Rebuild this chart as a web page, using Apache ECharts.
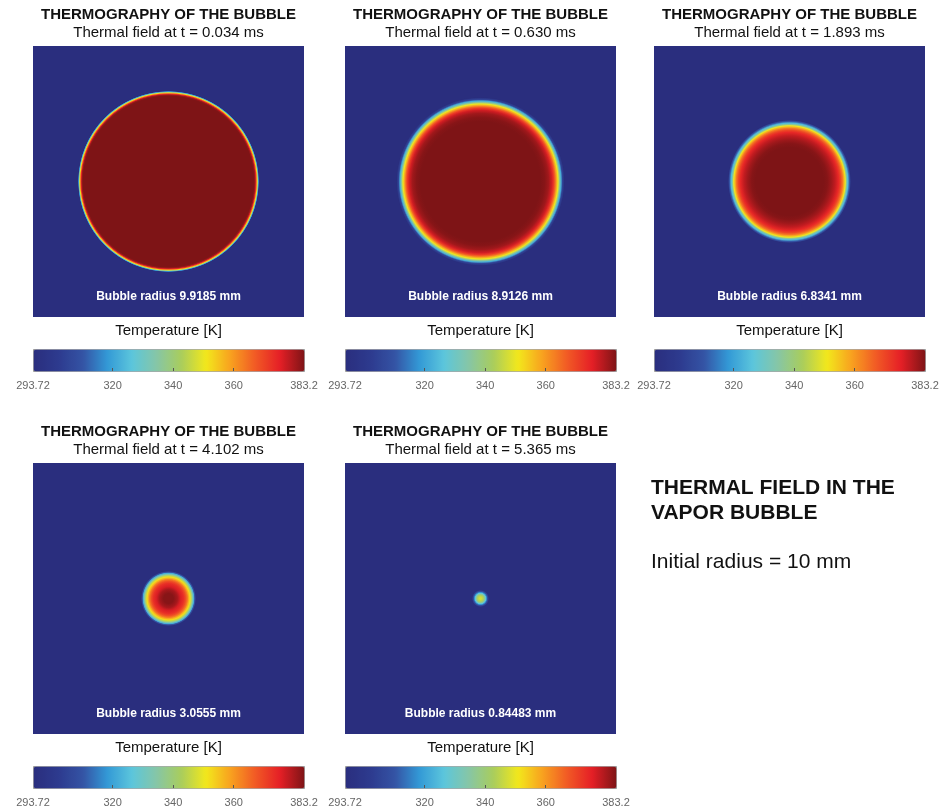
<!DOCTYPE html>
<html>
<head>
<meta charset="utf-8">
<title>Thermal field in the vapor bubble</title>
<script src="https://cdn.jsdelivr.net/npm/echarts@6/dist/echarts.min.js"></script>
<style>
  html, body { margin: 0; padding: 0; background: #fff; }
  #chart { width: 948px; height: 808px; }
</style>
</head>
<body>
<div id="chart"></div>
<script>
// snapshot times and bubble radius of each panel
const TIMES_MS = ['0.034', '0.630', '1.893', '4.102', '5.365'];
const BUBBLE_RADII_MM = ['9.9185', '8.9126', '6.8341', '3.0555', '0.84483'];
const INITIAL_RADIUS_MM = 10;
const BUBBLE_CENTER = [0, 0];

// temperature scale (K)
const T_MIN = 293.72;
const T_MAX = 383.2;
const TICK_LABELS = [293.72, 320, 340, 360, 383.2];
const TICK_MARKS = [320, 340, 360];

// radial temperature profiles: [r (mm), T (K)], outer -> inner
const PROFILE_1 = [[10.02, 293.72], [9.95, 318], [9.89, 336], [9.83, 350], [9.76, 362], [9.68, 374], [9.58, 381], [9.45, 383.2]];
const PROFILE_2 = [[9.30, 293.72], [9.08, 305], [8.91, 322], [8.75, 336], [8.58, 350], [8.42, 358], [8.25, 366], [8.08, 372], [7.86, 377], [7.53, 380.5], [7.09, 382.5], [6.64, 383.2]];
const PROFILE_3 = [[6.80, 293.72], [6.65, 310], [6.46, 324], [6.31, 336], [6.17, 350], [6.01, 358], [5.87, 364], [5.65, 370], [5.43, 374], [5.04, 378], [4.65, 380.5], [4.21, 382.5], [3.77, 383.2]];
const PROFILE_4 = [[3.05, 293.72], [2.90, 310], [2.80, 322], [2.66, 334], [2.49, 346], [2.38, 352], [2.21, 358], [2.10, 363], [1.88, 369], [1.66, 373], [1.33, 376], [1.00, 380], [0.55, 382.5]];
const PROFILE_5 = [[0.95, 293.72], [0.78, 308], [0.66, 318], [0.59, 326], [0.50, 334], [0.39, 340], [0.28, 344], [0.10, 347]];
const PROFILES = [PROFILE_1, PROFILE_2, PROFILE_3, PROFILE_4, PROFILE_5];

// jet-like colormap, evenly spaced from T_MIN to T_MAX
const COLORMAP = ['#2a2e7e', '#2d3a8e', '#3453a4', '#3399d6', '#5cc6dc', '#86c6a6',
                  '#a9cd5c', '#f2e81c', '#f8a11f', '#f15a25', '#e51f26', '#7e1416'];

const FONT = '"Liberation Sans", Arial, Helvetica, sans-serif';
const PLOT = 271;
const layout = [[33, 46], [345, 46], [654, 46], [33, 463], [345, 463]];

const myChart = echarts.init(document.getElementById('chart'));

const grid = [], xAxis = [], yAxis = [], series = [], visualMap = [], graphic = [];

// ring colours / pixel radii remembered while rendering, so each ring blends into the next
const ringColors = PROFILES.map(() => []);
const ringRadii = PROFILES.map(() => []);

layout.forEach(([left, top], i) => {
  const cx = left + PLOT / 2;
  // bubble field
  grid.push({ left, top, width: PLOT, height: PLOT, show: true, backgroundColor: COLORMAP[0], borderWidth: 0 });
  xAxis.push({ gridIndex: 2 * i, type: 'value', min: -15, max: 15, show: false });
  yAxis.push({ gridIndex: 2 * i, type: 'value', min: -15, max: 15, show: false });
  // colorbar ticks
  grid.push({ left, top: top + 303, width: PLOT, height: 22 });
  xAxis.push({
    gridIndex: 2 * i + 1, type: 'value', min: T_MIN, max: T_MAX, z: 10,
    axisLine: { show: false },
    splitLine: { show: false },
    axisTick: { show: true, inside: true, length: 3, customValues: TICK_MARKS, lineStyle: { color: '#555' } },
    axisLabel: { customValues: TICK_LABELS, color: '#666', fontSize: 11, margin: 9, fontFamily: FONT }
  });
  yAxis.push({ gridIndex: 2 * i + 1, type: 'value', min: 0, max: 1, show: false });

  series.push({
    type: 'custom',
    coordinateSystem: 'cartesian2d',
    xAxisIndex: 2 * i,
    yAxisIndex: 2 * i,
    silent: true,
    data: PROFILES[i],
    renderItem: function (params, api) {
      const k = params.dataIndex;
      const c = api.coord(BUBBLE_CENTER);
      const r = api.size([api.value(0), api.value(0)])[0];
      const color = api.visual('color');
      ringColors[i][k] = color;
      ringRadii[i][k] = r;
      if (k === 0) {
        return { type: 'circle', shape: { cx: c[0], cy: c[1], r }, style: { fill: color } };
      }
      const rOut = ringRadii[i][k - 1];
      return {
        type: 'circle',
        shape: { cx: c[0], cy: c[1], r: rOut },
        style: {
          fill: {
            type: 'radial', x: 0.5, y: 0.5, r: 0.5,
            colorStops: [
              { offset: r / rOut, color },
              { offset: 1, color: ringColors[i][k - 1] }
            ]
          }
        }
      };
    }
  });

  visualMap.push({
    type: 'continuous',
    seriesIndex: i,
    dimension: 1,
    min: T_MIN,
    max: T_MAX,
    orient: 'horizontal',
    left, top: top + 303,
    itemWidth: 22,
    itemHeight: PLOT,
    padding: 0,
    calculable: false,
    hoverLink: false,
    text: null,
    borderColor: '#999',
    borderWidth: 1,
    inRange: { color: COLORMAP }
  });

  graphic.push(
    { type: 'text', x: cx, y: top - 31, z: 100, style: { text: 'THERMOGRAPHY OF THE BUBBLE', font: 'bold 15px ' + FONT, fill: '#111', align: 'center', verticalAlign: 'middle' } },
    { type: 'text', x: cx, y: top - 13, z: 100, style: { text: 'Thermal field at t = ' + TIMES_MS[i] + ' ms', font: '15px ' + FONT, fill: '#111', align: 'center', verticalAlign: 'middle' } },
    { type: 'text', x: cx, y: top + 251, z: 100, style: { text: 'Bubble radius ' + BUBBLE_RADII_MM[i] + ' mm', font: 'bold 12px ' + FONT, fill: '#fff', align: 'center', verticalAlign: 'middle' } },
    { type: 'text', x: cx, y: top + 285, z: 100, style: { text: 'Temperature [K]', font: '15px ' + FONT, fill: '#111', align: 'center', verticalAlign: 'middle' } }
  );
});

graphic.push(
  { type: 'text', x: 651, y: 488, z: 100, style: { text: 'THERMAL FIELD IN THE', font: 'bold 21px ' + FONT, fill: '#111', verticalAlign: 'middle' } },
  { type: 'text', x: 651, y: 513, z: 100, style: { text: 'VAPOR BUBBLE', font: 'bold 21px ' + FONT, fill: '#111', verticalAlign: 'middle' } },
  { type: 'text', x: 651, y: 562, z: 100, style: { text: 'Initial radius = ' + INITIAL_RADIUS_MM + ' mm', font: '21px ' + FONT, fill: '#111', verticalAlign: 'middle' } }
);

myChart.setOption({
  animation: false,
  grid, xAxis, yAxis, series, visualMap, graphic
});

window.addEventListener('resize', () => myChart.resize());
</script>
</body>
</html>
